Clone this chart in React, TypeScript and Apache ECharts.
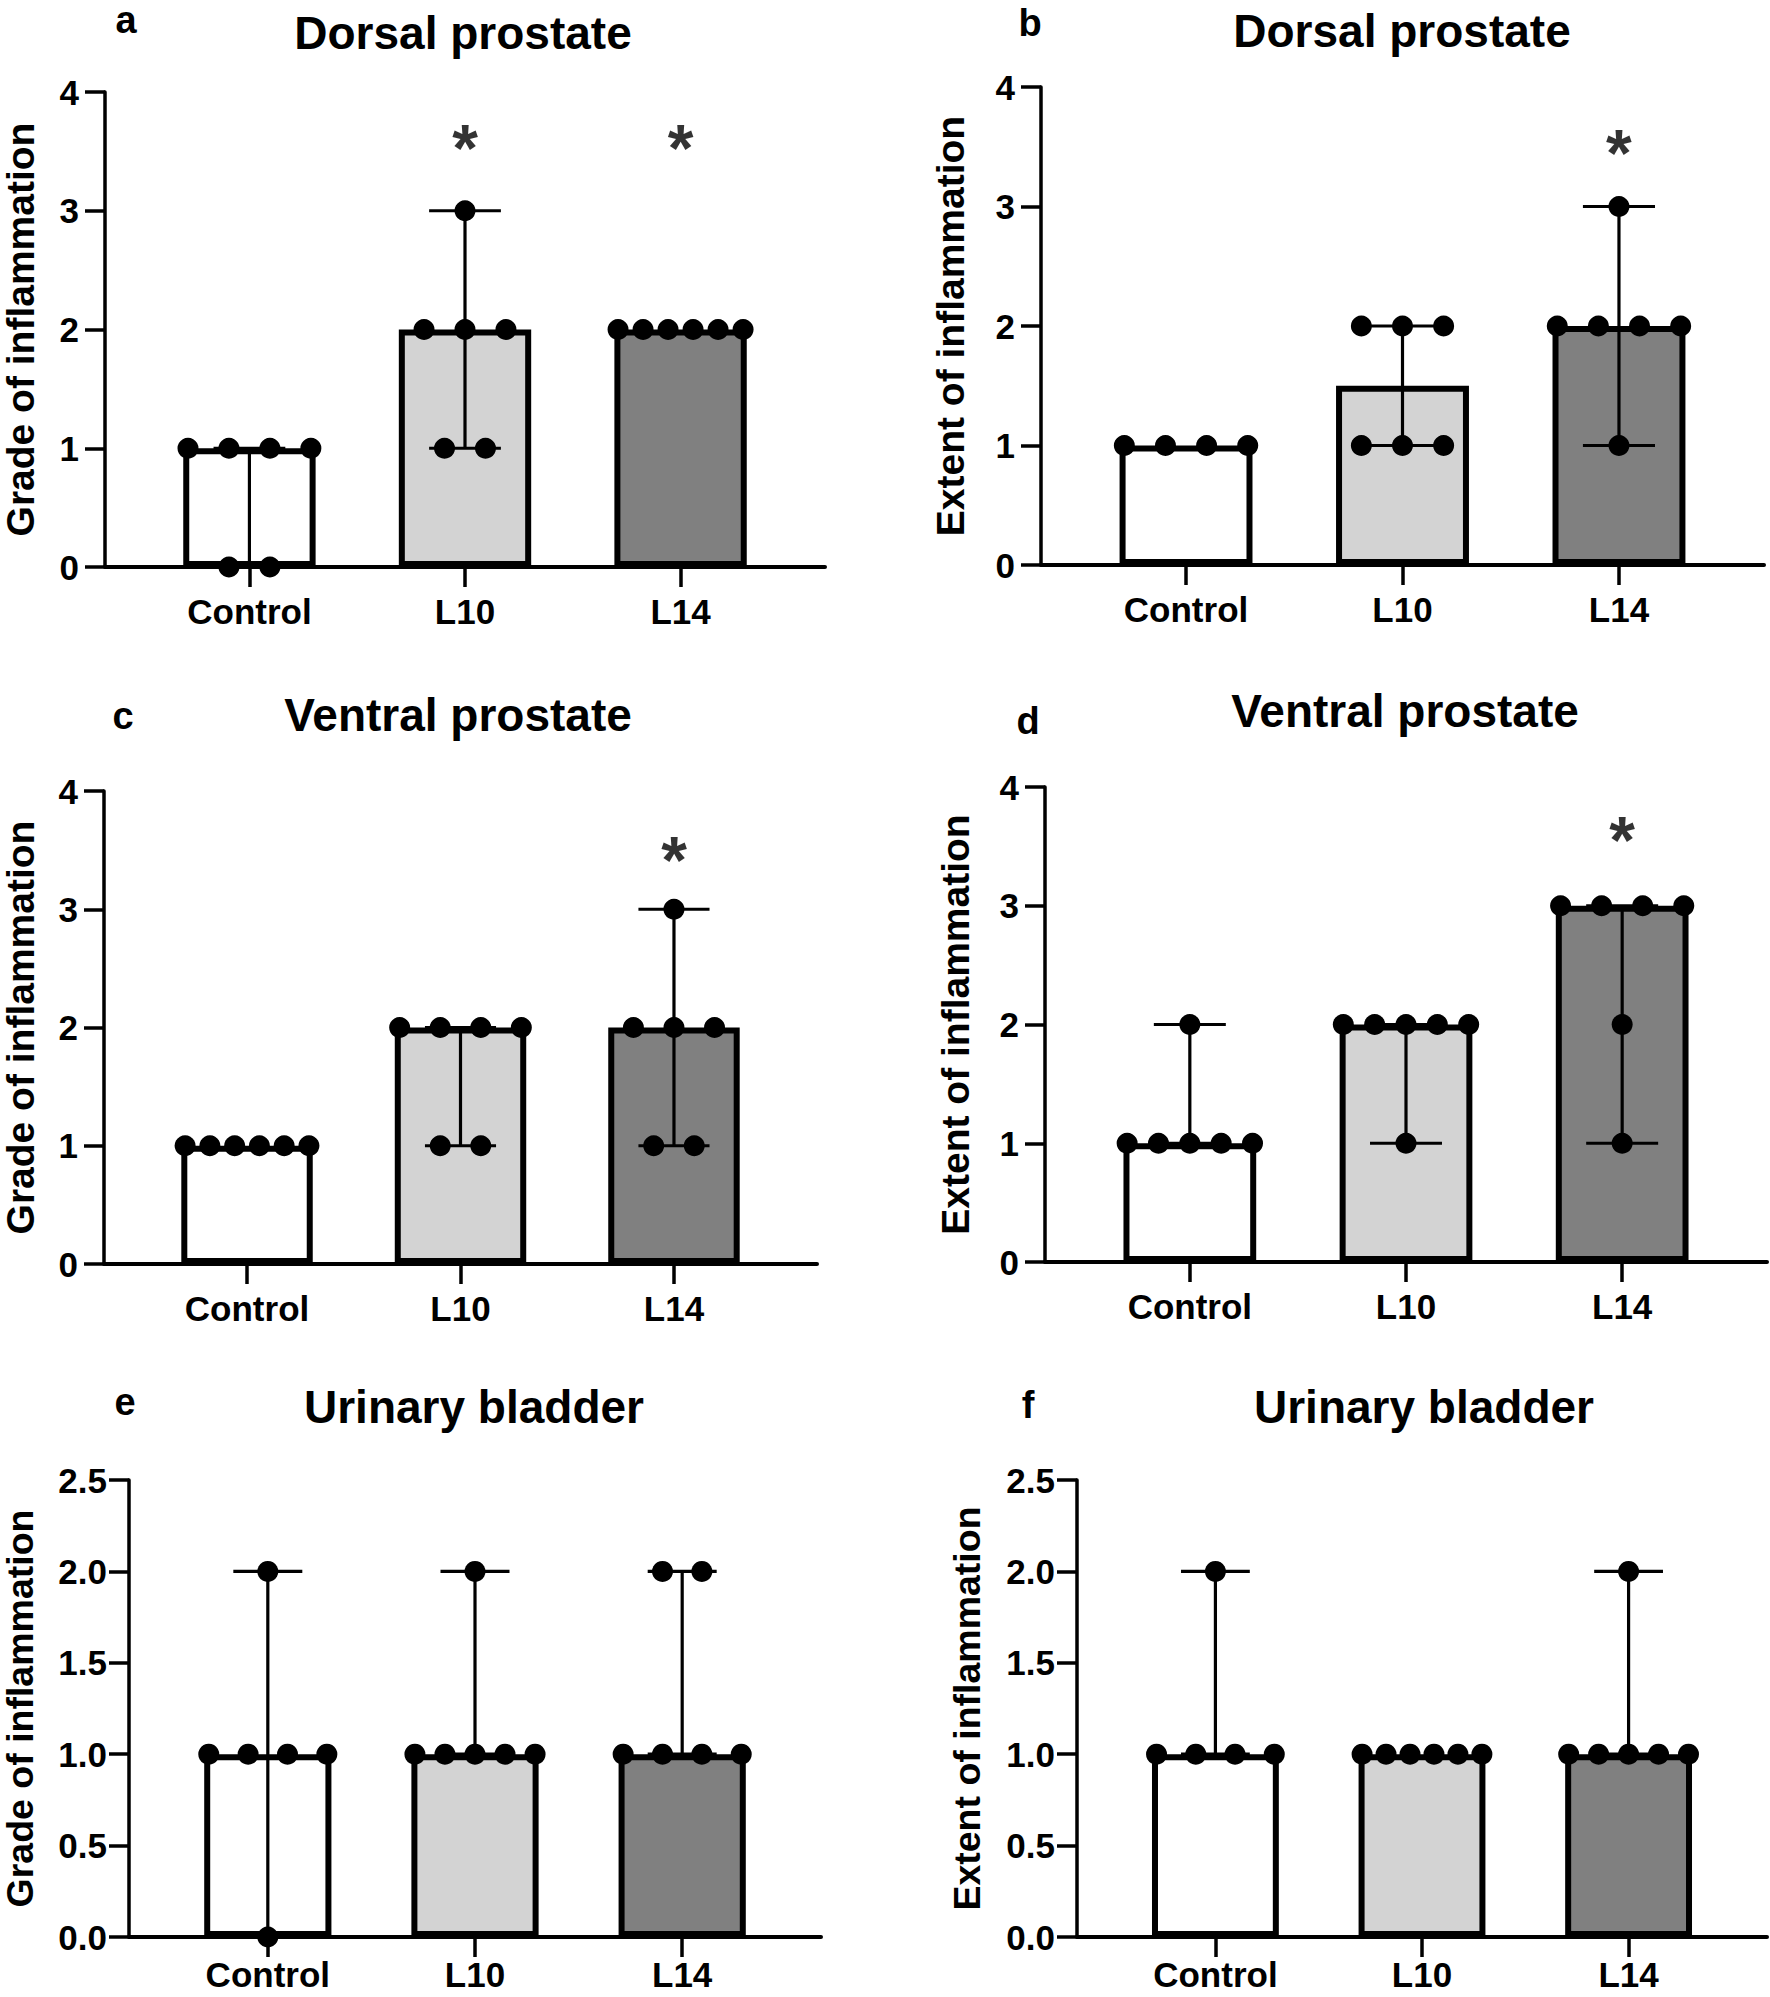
import React, { useEffect, useRef } from "react";
import * as echarts from "echarts";

// ---------------- data ----------------
const groups = ["Control", "L10", "L14"];

// a – Dorsal prostate, grade
const dorsalGradeDots = [[0, 0, 1, 1, 1, 1], [1, 1, 2, 2, 2, 3], [2, 2, 2, 2, 2, 2]];
const dorsalGradeMedian = [1, 2, 2];
const dorsalGradeMin = [0, 1, 2];
const dorsalGradeMax = [1, 3, 2];
const dorsalGradeSig = [false, true, true];

// b – Dorsal prostate, extent
const dorsalExtentDots = [[1, 1, 1, 1], [1, 1, 1, 2, 2, 2], [1, 2, 2, 2, 2, 3]];
const dorsalExtentMedian = [1, 1.5, 2];
const dorsalExtentMin = [1, 1, 1];
const dorsalExtentMax = [1, 2, 3];
const dorsalExtentSig = [false, false, true];

// c – Ventral prostate, grade
const ventralGradeDots = [[1, 1, 1, 1, 1, 1], [1, 1, 2, 2, 2, 2], [1, 1, 2, 2, 2, 3]];
const ventralGradeMedian = [1, 2, 2];
const ventralGradeMin = [1, 1, 1];
const ventralGradeMax = [1, 2, 3];
const ventralGradeSig = [false, false, true];

// d – Ventral prostate, extent
const ventralExtentDots = [[1, 1, 1, 1, 1, 2], [1, 2, 2, 2, 2, 2], [1, 2, 3, 3, 3, 3]];
const ventralExtentMedian = [1, 2, 3];
const ventralExtentMin = [1, 1, 1];
const ventralExtentMax = [2, 2, 3];
const ventralExtentSig = [false, false, true];

// e – Urinary bladder, grade
const bladderGradeDots = [[0, 1, 1, 1, 1, 2], [1, 1, 1, 1, 1, 2], [1, 1, 1, 1, 2, 2]];
const bladderGradeMedian = [1, 1, 1];
const bladderGradeMin = [0, 1, 1];
const bladderGradeMax = [2, 2, 2];
const bladderGradeSig = [false, false, false];

// f – Urinary bladder, extent
const bladderExtentDots = [[1, 1, 1, 1, 2], [1, 1, 1, 1, 1, 1], [1, 1, 1, 1, 1, 2]];
const bladderExtentMedian = [1, 1, 1];
const bladderExtentMin = [1, 1, 1];
const bladderExtentMax = [2, 1, 2];
const bladderExtentSig = [false, false, false];

const yTicks4 = [0, 1, 2, 3, 4];
const yTicks25 = [0, 0.5, 1, 1.5, 2, 2.5];

// ---------------- styling / layout ----------------
const FONT = "'Liberation Sans', Arial, Helvetica, sans-serif";
const barColors = ["#ffffff", "#d3d3d3", "#808080"];
const X_MIN = -0.67;
const X_MAX = 2.67;
const BAR_FRAC = 0.614;
const CAP_FRAC = 0.333;
const DOT_STEP = 0.19;
const DOT_SPREAD = 0.58;

const panels = [
  {
    letter: "a", title: "Dorsal prostate", yName: "Grade of inflammation",
    dots: dorsalGradeDots, median: dorsalGradeMedian, lo: dorsalGradeMin, hi: dorsalGradeMax, sig: dorsalGradeSig,
    yTicks: yTicks4, decimals: 0,
    grid: { left: 105, top: 92, width: 720, height: 475 },
    titleXY: [463, 33], letterXY: [126, 20], nameGap: 65, nameSize: 39, labelMargin: 26, xLabelMargin: 27, starY: 3.53,
  },
  {
    letter: "b", title: "Dorsal prostate", yName: "Extent of inflammation",
    dots: dorsalExtentDots, median: dorsalExtentMedian, lo: dorsalExtentMin, hi: dorsalExtentMax, sig: dorsalExtentSig,
    yTicks: yTicks4, decimals: 0,
    grid: { left: 1041, top: 87, width: 723, height: 478 },
    titleXY: [1402, 31], letterXY: [1030, 23], nameGap: 71, nameSize: 39, labelMargin: 26, xLabelMargin: 27, starY: 3.45,
  },
  {
    letter: "c", title: "Ventral prostate", yName: "Grade of inflammation",
    dots: ventralGradeDots, median: ventralGradeMedian, lo: ventralGradeMin, hi: ventralGradeMax, sig: ventralGradeSig,
    yTicks: yTicks4, decimals: 0,
    grid: { left: 102, top: 791, width: 715, height: 473 },
    titleXY: [458, 715], letterXY: [123, 716], nameGap: 64, nameSize: 39, labelMargin: 26, xLabelMargin: 27, starY: 3.42,
  },
  {
    letter: "d", title: "Ventral prostate", yName: "Extent of inflammation",
    dots: ventralExtentDots, median: ventralExtentMedian, lo: ventralExtentMin, hi: ventralExtentMax, sig: ventralExtentSig,
    yTicks: yTicks4, decimals: 0,
    grid: { left: 1045, top: 787, width: 722, height: 475 },
    titleXY: [1405, 711], letterXY: [1028, 721], nameGap: 70, nameSize: 39, labelMargin: 26, xLabelMargin: 27, starY: 3.55,
  },
  {
    letter: "e", title: "Urinary bladder", yName: "Grade of inflammation",
    dots: bladderGradeDots, median: bladderGradeMedian, lo: bladderGradeMin, hi: bladderGradeMax, sig: bladderGradeSig,
    yTicks: yTicks25, decimals: 1,
    grid: { left: 129, top: 1480, width: 692, height: 457 },
    titleXY: [474, 1407], letterXY: [125, 1402], nameGap: 90, nameSize: 37.5, labelMargin: 22, xLabelMargin: 20, starY: 2.3,
  },
  {
    letter: "f", title: "Urinary bladder", yName: "Extent of inflammation",
    dots: bladderExtentDots, median: bladderExtentMedian, lo: bladderExtentMin, hi: bladderExtentMax, sig: bladderExtentSig,
    yTicks: yTicks25, decimals: 1,
    grid: { left: 1077, top: 1480, width: 690, height: 457 },
    titleXY: [1424, 1407], letterXY: [1028, 1405], nameGap: 91, nameSize: 37.5, labelMargin: 22, xLabelMargin: 20, starY: 2.3,
  },
];

function spreadDots(values: number[], idx: number): number[][] {
  const counts = new Map<number, number>();
  values.forEach((v) => counts.set(v, (counts.get(v) || 0) + 1));
  const seen = new Map<number, number>();
  return values.map((v) => {
    const n = counts.get(v) as number;
    const k = seen.get(v) || 0;
    seen.set(v, k + 1);
    const step = n > 1 ? Math.min(DOT_STEP, DOT_SPREAD / (n - 1)) : 0;
    return [idx + (k - (n - 1) / 2) * step, v];
  });
}

function buildOption() {
  const grid: any[] = [];
  const xAxis: any[] = [];
  const yAxis: any[] = [];
  const series: any[] = [];
  const graphic: any[] = [];

  panels.forEach((p, i) => {
    grid.push({ ...p.grid });
    const spacing = p.grid.width / (X_MAX - X_MIN);
    const yMax = p.yTicks[p.yTicks.length - 1];
    const yStep = p.yTicks[1] - p.yTicks[0];

    xAxis.push({
      type: "value", gridIndex: i, min: X_MIN, max: X_MAX,
      splitLine: { show: false },
      axisLine: { show: true, onZero: false, lineStyle: { color: "#000", width: 4 } },
      axisTick: { show: true, customValues: [0, 1, 2], length: 20, lineStyle: { color: "#000", width: 3.5 } },
      axisLabel: {
        customValues: [0, 1, 2],
        formatter: (v: number) => groups[Math.round(v)] ?? "",
        margin: p.xLabelMargin, color: "#000", fontSize: 35, fontWeight: "bold", fontFamily: FONT,
      },
    });
    yAxis.push({
      type: "value", gridIndex: i, min: 0, max: yMax, interval: yStep,
      splitLine: { show: false },
      axisLine: { show: true, onZero: false, lineStyle: { color: "#000", width: 3.5 } },
      axisTick: { show: true, length: 20, lineStyle: { color: "#000", width: 3.5 } },
      axisLabel: {
        formatter: (v: number) => v.toFixed(p.decimals),
        margin: p.labelMargin, color: "#000", fontSize: 35, fontWeight: "bold", fontFamily: FONT,
      },
      name: p.yName, nameLocation: "middle", nameGap: p.nameGap,
      nameTextStyle: { color: "#000", fontSize: p.nameSize, fontWeight: "bold", fontFamily: FONT },
    });

    series.push({
      type: "bar", xAxisIndex: i, yAxisIndex: i, z: 2, silent: true,
      barWidth: BAR_FRAC * spacing,
      itemStyle: { borderColor: "#000", borderWidth: 6 },
      data: p.median.map((m, j) => ({ value: [j, m], itemStyle: { color: barColors[j], borderColor: "#000", borderWidth: 6 } })),
    });

    series.push({
      type: "custom", xAxisIndex: i, yAxisIndex: i, z: 3, silent: true,
      data: p.median.map((_, j) => [j, p.lo[j], p.hi[j]]),
      renderItem: (params: any, api: any) => {
        const x = api.value(0);
        const lo = api.value(1);
        const hi = api.value(2);
        if (lo === hi) return { type: "group", children: [] };
        const a = api.coord([x, lo]);
        const b = api.coord([x, hi]);
        const half = api.size([CAP_FRAC, 0])[0] / 2;
        const st = { stroke: "#000", lineWidth: 3.2 };
        return {
          type: "group",
          children: [
            { type: "line", shape: { x1: a[0], y1: a[1], x2: b[0], y2: b[1] }, style: st },
            { type: "line", shape: { x1: a[0] - half, y1: a[1], x2: a[0] + half, y2: a[1] }, style: st },
            { type: "line", shape: { x1: b[0] - half, y1: b[1], x2: b[0] + half, y2: b[1] }, style: st },
          ],
        };
      },
    });

    const dotData: number[][] = [];
    p.dots.forEach((vals, j) => spreadDots(vals, j).forEach((d) => dotData.push(d)));
    series.push({
      type: "scatter", xAxisIndex: i, yAxisIndex: i, z: 4, silent: true,
      symbol: "circle", symbolSize: 21, itemStyle: { color: "#000", opacity: 1 },
      data: dotData,
    });

    const starData = p.sig.map((s, j) => (s ? [j, p.starY] : null)).filter((d) => d !== null);
    if (starData.length) {
      series.push({
        type: "scatter", xAxisIndex: i, yAxisIndex: i, z: 5, silent: true,
        symbol: "circle", symbolSize: 1, itemStyle: { color: "rgba(0,0,0,0)" },
        label: {
          show: true, position: "inside", formatter: "*", color: "#000",
          fontSize: 66, fontWeight: "bold", fontFamily: FONT,
        },
        data: starData,
      });
    }

    graphic.push({
      type: "text", x: p.titleXY[0], y: p.titleXY[1],
      style: {
        text: p.title, fill: "#000", fontSize: 46, fontWeight: "bold", fontFamily: FONT,
        textAlign: "center", textVerticalAlign: "middle", align: "center", verticalAlign: "middle",
      },
    });
    graphic.push({
      type: "text", x: p.letterXY[0], y: p.letterXY[1],
      style: {
        text: p.letter, fill: "#000", fontSize: 38, fontWeight: "bold", fontFamily: FONT,
        textAlign: "center", textVerticalAlign: "middle", align: "center", verticalAlign: "middle",
      },
    });
  });

  return {
    animation: false,
    backgroundColor: "#ffffff",
    grid, xAxis, yAxis, series, graphic,
  };
}

export default function App() {
  const ref = useRef<HTMLDivElement>(null);
  useEffect(() => {
    document.body.style.margin = "0";
    if (!ref.current) return;
    const chart = echarts.init(ref.current, null, { renderer: "svg" });
    chart.setOption(buildOption() as any);
    return () => chart.dispose();
  }, []);
  return <div ref={ref} style={{ width: 1770, height: 1997, background: "#fff" }} />;
}
